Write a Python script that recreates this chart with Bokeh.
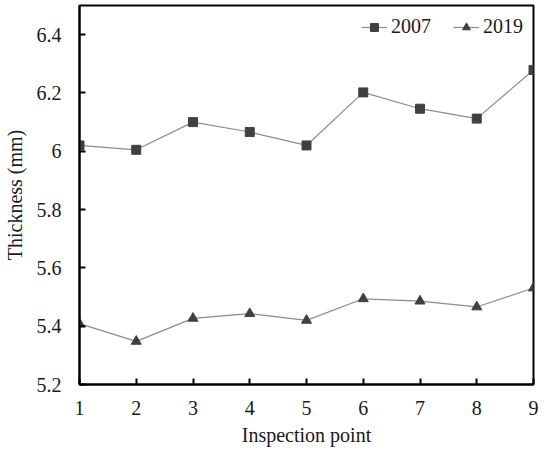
from bokeh.plotting import figure
from bokeh.models import ColumnDataSource, FixedTicker, Range1d, Legend, LegendItem
from bokeh.embed import file_html
from bokeh.resources import INLINE

# Wall thickness measured at each inspection point
points = [1, 2, 3, 4, 5, 6, 7, 8, 9]
thick_2007 = [6.02, 6.005, 6.10, 6.066, 6.02, 6.202, 6.146, 6.112, 6.279]
thick_2019 = [5.409, 5.348, 5.427, 5.443, 5.42, 5.494, 5.486, 5.466, 5.531]

y_ticks = [5.2, 5.4, 5.6, 5.8, 6.0, 6.2, 6.4]
y_tick_labels = ["5.2", "5.4", "5.6", "5.8", "6", "6.2", "6.4"]

FONT = "Liberation Serif"
TICK_FONT = "serif"
TEXT_COLOR = "#1a1a1a"

src = ColumnDataSource(dict(x=points, a=thick_2007, b=thick_2019))

p = figure(width=544, height=450, output_backend="svg", toolbar_location=None,
           x_range=Range1d(1, 9), y_range=Range1d(5.2, 6.5),
           min_border_left=79, min_border_right=11, min_border_top=5,
           min_border_bottom=66)

p.grid.visible = False
p.background_fill_color = "white"
p.border_fill_color = "white"
p.outline_line_color = "black"
p.outline_line_width = 2

l1 = p.line("x", "a", source=src, line_color="#8c8c8c", line_width=1.2)
s1 = p.scatter("x", "a", source=src, marker="square", size=9,
               fill_color="#404040", line_color="#404040")
l2 = p.line("x", "b", source=src, line_color="#8c8c8c", line_width=1.2)
s2 = p.scatter("x", "b", source=src, marker="triangle", size=10,
               fill_color="#404040", line_color="#404040")

for ax in (p.xaxis[0], p.yaxis[0]):
    ax.axis_line_color = "black"
    ax.axis_line_width = 2
    ax.major_tick_in = 6
    ax.major_tick_out = 0
    ax.major_tick_line_width = 2
    ax.minor_tick_line_color = None
    ax.major_label_text_font = TICK_FONT
    ax.major_label_text_font_size = "20px"
    ax.major_label_text_color = TEXT_COLOR
    ax.axis_label_text_font = FONT
    ax.axis_label_text_font_size = "20px"
    ax.axis_label_text_font_style = "normal"
    ax.axis_label_text_color = TEXT_COLOR

p.xaxis.ticker = FixedTicker(ticks=points)
p.xaxis.axis_label = "Inspection point"
p.xaxis.major_label_standoff = 16
p.xaxis.axis_label_standoff = 6

p.yaxis.ticker = FixedTicker(ticks=y_ticks)
p.yaxis.major_label_overrides = {t: s for t, s in zip(y_ticks, y_tick_labels)}
p.yaxis.axis_label = "Thickness (mm)"
p.yaxis.major_label_standoff = 18
p.yaxis.axis_label_standoff = 8

legend = Legend(items=[LegendItem(label="2007", renderers=[l1, s1]),
                       LegendItem(label="2019", renderers=[l2, s2])],
                location="top_right", orientation="horizontal",
                background_fill_alpha=0, border_line_color=None,
                label_text_font=FONT, label_text_font_size="20px",
                label_text_color=TEXT_COLOR, glyph_width=26, spacing=22,
                margin=10, padding=2, label_standoff=4)
p.add_layout(legend)

open("out.html", "w").write(file_html(p, INLINE))
